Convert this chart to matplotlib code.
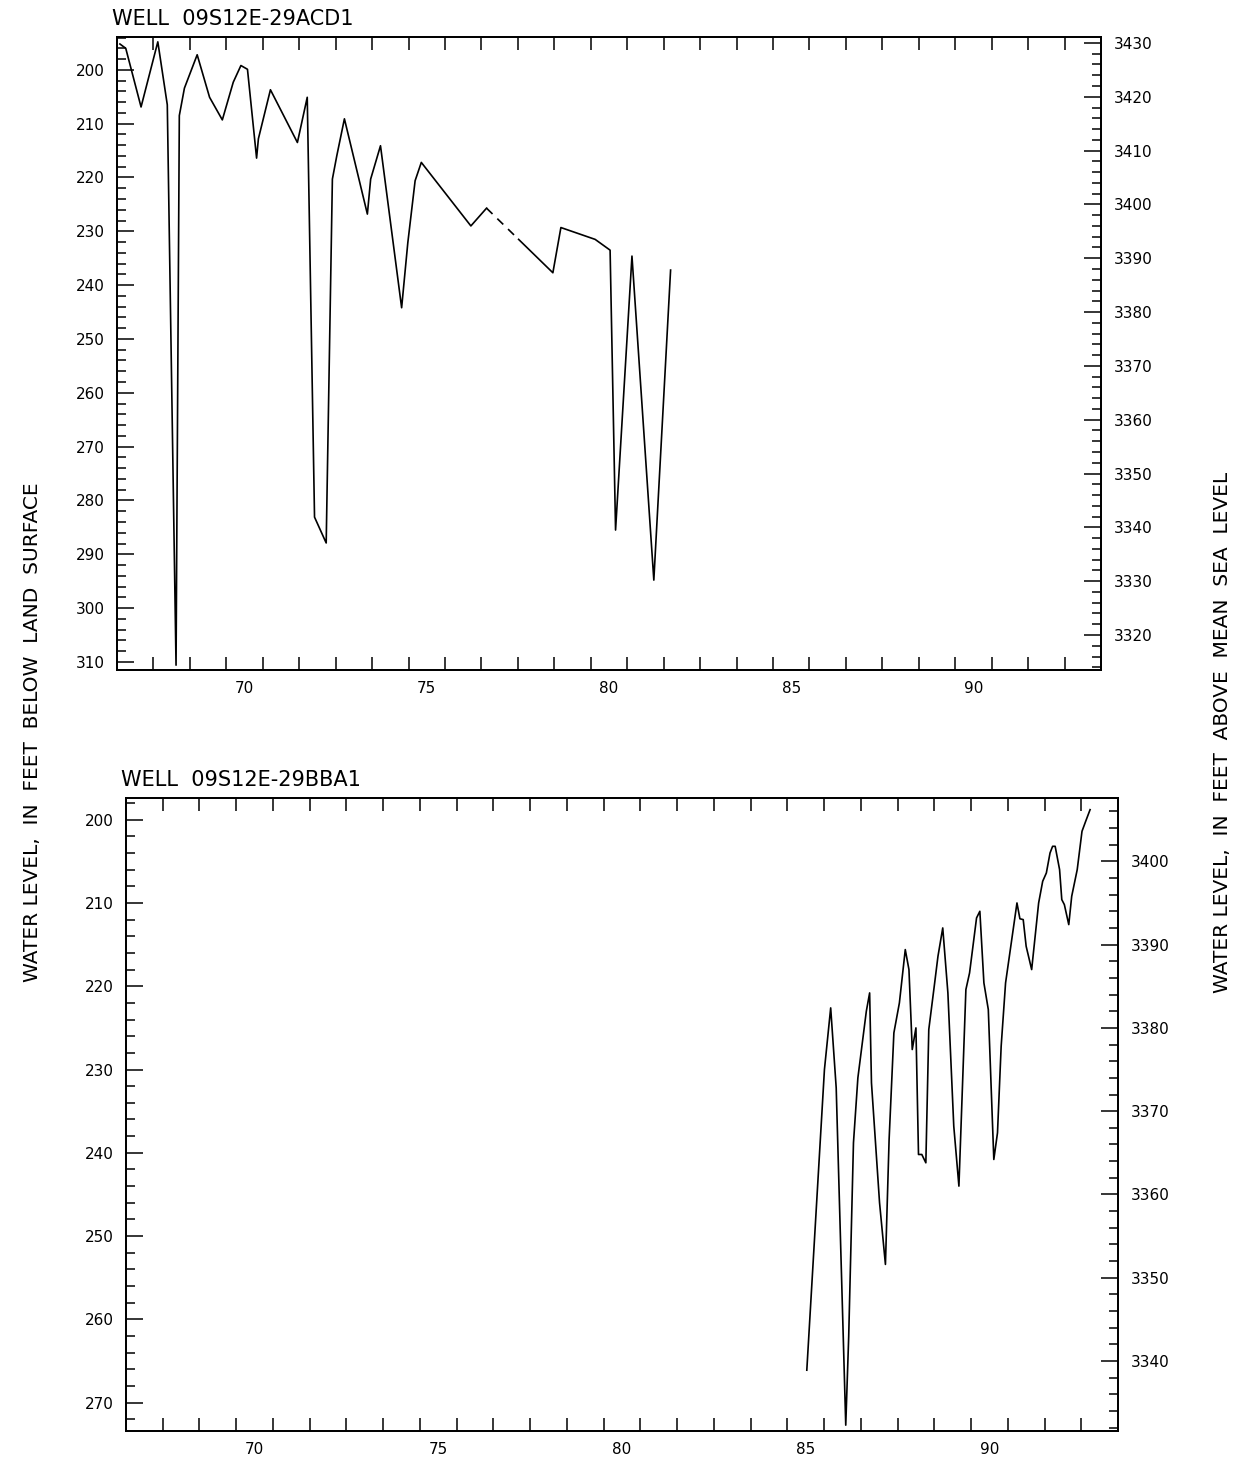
import matplotlib
matplotlib.use('Agg')
import matplotlib.pyplot as plt
from matplotlib.ticker import MultipleLocator

# years are decimal years after 1900, depths in feet below land surface
acd1_years = [67.08, 67.24, 67.66, 68.12, 68.38, 68.62, 68.71, 68.85, 69.20, 69.54,
              69.89, 70.19, 70.40, 70.58, 70.83, 70.88, 71.21, 71.95, 72.22, 72.42,
              72.74, 72.91, 73.03, 73.24, 73.87, 73.96, 74.23, 74.81, 74.98, 75.18,
              75.35, 76.71, 77.14, 78.02, 78.96, 79.18, 80.12, 80.53, 80.68, 81.13,
              81.73, 82.19]
acd1_depths = [195.2, 196.0, 206.9, 194.8, 206.5, 310.6, 208.5, 203.4, 197.2, 205.1,
               209.3, 202.3, 199.2, 199.9, 216.4, 212.8, 203.7, 213.5, 205.1, 283.1,
               287.9, 220.3, 216.0, 209.1, 226.8, 220.3, 214.1, 244.2, 232.1, 220.6,
               217.2, 229.0, 225.7, 231.5, 237.7, 229.3, 231.5, 233.5, 285.5, 234.6,
               294.8, 237.2]
acd1_gap = 32   # record missing between point 32 and 33 -> dashed

bba1_years = [85.53, 86.01, 86.18, 86.33, 86.59, 86.67, 86.80, 86.92, 87.15, 87.24,
              87.29, 87.51, 87.67, 87.77, 87.90, 88.05, 88.21, 88.31, 88.40, 88.50,
              88.57, 88.66, 88.77, 88.85, 89.01, 89.10, 89.23, 89.37, 89.53, 89.67,
              89.86, 89.96, 90.15, 90.24, 90.35, 90.47, 90.62, 90.72, 90.82, 90.94,
              91.25, 91.33, 91.42, 91.50, 91.65, 91.84, 91.95, 92.05, 92.15, 92.22,
              92.29, 92.41, 92.47, 92.54, 92.66, 92.74, 92.89, 93.02, 93.12, 93.24]
bba1_depths = [266.1, 230.0, 222.6, 232.2, 272.7, 262.1, 238.8, 231.0, 223.0, 220.8,
               231.6, 246.0, 253.4, 238.4, 225.6, 222.0, 215.6, 218.0, 227.6, 225.0,
               240.2, 240.2, 241.2, 225.2, 219.6, 216.4, 213.0, 220.8, 236.8, 244.0,
               220.4, 218.4, 211.8, 211.0, 219.6, 222.8, 240.8, 237.6, 227.2, 219.6,
               210.0, 211.9, 212.0, 215.2, 218.0, 210.0, 207.4, 206.4, 204.0, 203.2,
               203.2, 206.0, 209.6, 210.2, 212.6, 209.2, 206.0, 201.4, 200.2, 198.8]

year_ticks = list(range(68, 94))
year_labels = ['70', '75', '80', '85', '90']

W, H = 1235, 1465
fig = plt.figure(figsize=(W / 100, H / 100), dpi=100)
plt.rcParams['font.family'] = 'DejaVu Sans'


def well_axes(box, title, depth_lim, lsd):
    # box in pixels: left, top, right, bottom
    l, t, r, b = box
    ax = fig.add_axes([l / W, 1 - b / H, (r - l) / W, (b - t) / H])
    ax2 = ax.twinx()
    ax.set_xlim(67, 94)
    ax.set_ylim(depth_lim)
    ax2.set_ylim(lsd - depth_lim[0], lsd - depth_lim[1])

    ax.set_xticks(year_ticks)
    ax.set_xticklabels([])
    ax.set_xticks([int(s) + 0.5 for s in year_labels], year_labels, minor=True)
    ax.tick_params(axis='x', which='major', direction='in', length=9.5, width=1.1,
                   top=True, bottom=True)
    ax.tick_params(axis='x', which='minor', length=0, labelsize=11, pad=8)

    for a in (ax, ax2):
        a.yaxis.set_major_locator(MultipleLocator(10))
        a.yaxis.set_minor_locator(MultipleLocator(2))
        a.tick_params(axis='y', which='major', direction='in', length=12.5, width=1.1,
                      labelsize=11, pad=9)
        a.tick_params(axis='y', which='minor', direction='in', length=6.5, width=1.1)
        for s in a.spines.values():
            s.set_linewidth(1.3)

    fig.text((l - 5) / W, 1 - (t - 12) / H, title, fontsize=15, ha='left', va='baseline')
    return ax


ax = well_axes((117, 37, 1101, 670), 'WELL  09S12E-29ACD1', (311.5, 193.9), 3625)
k = acd1_gap
ax.plot(acd1_years[:k + 1], acd1_depths[:k + 1], color='black', lw=1.2)
ax.plot(acd1_years[k:k + 2], acd1_depths[k:k + 2], color='black', lw=1.2, ls=(0, (5, 4)))
ax.plot(acd1_years[k + 1:], acd1_depths[k + 1:], color='black', lw=1.2)

ax = well_axes((126, 798, 1118, 1431), 'WELL  09S12E-29BBA1', (273.4, 197.4), 3605)
ax.plot(bba1_years, bba1_depths, color='black', lw=1.2)

fig.text(33 / W, 1 - 732 / H, 'WATER LEVEL,  IN  FEET  BELOW  LAND  SURFACE',
         rotation=90, ha='center', va='center', fontsize=14.5)
fig.text(1222 / W, 1 - 732 / H, 'WATER LEVEL,  IN  FEET  ABOVE  MEAN  SEA  LEVEL',
         rotation=90, ha='center', va='center', fontsize=14.5)

fig.savefig('out.png', dpi=100)
